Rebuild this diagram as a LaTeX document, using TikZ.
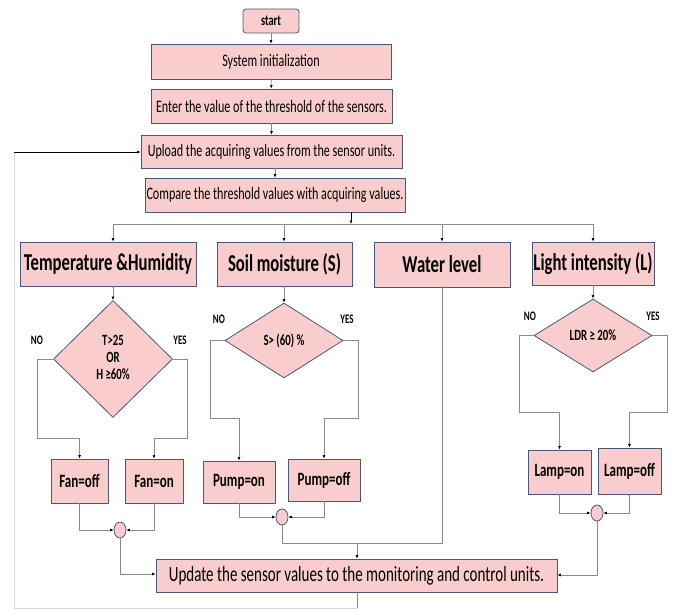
\documentclass[tikz,border=0pt]{standalone}
\usepackage{fontspec}
\usepackage{graphicx}
\setmainfont{Carlito}
\usetikzlibrary{shapes.geometric,arrows.meta}
\definecolor{boxfill}{HTML}{F9CDCD}
\definecolor{boxdraw}{HTML}{4D5677}
\definecolor{linegray}{HTML}{8A8A8A}
\definecolor{loopgray}{HTML}{D8D8D8}
\newcommand{\tallt}[1]{\scalebox{1}[1.45]{#1}}
\tikzset{
  box/.style={draw=boxdraw,fill=boxfill,line width=0.8pt,inner sep=0pt,align=center},
  startbox/.style={box,rounded corners=3pt,font=\bfseries\fontsize{10.4}{12}\selectfont},
  mainbox/.style={box,font=\fontsize{12.1}{14}\selectfont},
  headbox/.style={box,font=\bfseries\fontsize{16.7}{19}\selectfont},
  actbox/.style={box,font=\bfseries\fontsize{13}{15}\selectfont},
  decbox/.style={box,diamond,font=\bfseries\fontsize{10.8}{11.7}\selectfont},
  joinbox/.style={box,ellipse,minimum width=12pt,minimum height=16pt},
  yn/.style={font=\bfseries\fontsize{9}{10}\selectfont},
  conn/.style={draw=linegray,line width=0.7pt},
  arr/.style={conn,-{Latex[length=3.5pt,width=3pt,color=black]}},
  darr/.style={draw=black,line width=0.7pt,-{Latex[length=3.5pt,width=3pt]}},
}
\begin{document}
\begin{tikzpicture}[x=1pt,y=-1pt]
\useasboundingbox (0,0) rectangle (673,610);
\fill[white] (0,0) rectangle (673,610);

\node[startbox,minimum width=56pt,minimum height=24pt] (start) at (271,21) {\tallt{start}};
\node[mainbox,minimum width=240pt,minimum height=35pt] (sys) at (271,61.5) {\tallt{System initialization}};
\node[mainbox,minimum width=241pt,minimum height=34pt] (enter) at (271.5,106) {\tallt{Enter the value of the threshold of the sensors.}};
\node[mainbox,minimum width=261pt,minimum height=33pt] (upload) at (271.5,151.5) {\tallt{Upload the acquiring values from the sensor units.}};
\node[mainbox,minimum width=260pt,minimum height=34pt] (compare) at (275,195) {\tallt{Compare the threshold values with acquiring values.}};

\node[headbox,minimum width=176pt,minimum height=44pt] (th) at (108,264) {\tallt{Temperature \&Humidity}};
\node[headbox,minimum width=135pt,minimum height=44pt] (soil) at (284.5,264) {\tallt{Soil moisture (S)}};
\node[headbox,minimum width=136pt,minimum height=45pt] (water) at (442,264.5) {\tallt{Water level}};
\node[headbox,minimum width=122pt,minimum height=43pt] (light) at (593,263.5) {\tallt{Light intensity (L)}};

\node[decbox,minimum width=119pt,minimum height=117pt] (d1) at (113,359) {\tallt{\begin{tabular}{@{}c@{}}T>25\\OR\\H ≥60\%\end{tabular}}};
\node[decbox,minimum width=118pt,minimum height=75pt] (d2) at (284,340.5) {\tallt{S> (60) \%}};
\node[decbox,minimum width=118pt,minimum height=73pt] (d3) at (593,335.5) {\tallt{LDR ≥ 20\%}};

\node[yn] (no1) at (37,340) {\tallt{NO}};
\node[yn] (yes1) at (180,340) {\tallt{YES}};
\node[yn] (no2) at (219,319) {\tallt{NO}};
\node[yn] (yes2) at (347,319) {\tallt{YES}};
\node[yn] (no3) at (530,316) {\tallt{NO}};
\node[yn] (yes3) at (653,316) {\tallt{YES}};

\node[actbox,minimum width=57pt,minimum height=44pt] (fanoff) at (79.5,481) {\tallt{Fan=off}};
\node[actbox,minimum width=58pt,minimum height=44pt] (fanon) at (154,481) {\tallt{Fan=on}};
\node[actbox,minimum width=72pt,minimum height=42pt] (pumpon) at (239,482) {\tallt{Pump=on}};
\node[actbox,minimum width=72pt,minimum height=42pt] (pumpoff) at (324,480) {\tallt{Pump=off}};
\node[actbox,minimum width=63pt,minimum height=44pt] (lampon) at (559.5,472) {\tallt{Lamp=on}};
\node[actbox,minimum width=63pt,minimum height=46pt] (lampoff) at (629.5,471) {\tallt{Lamp=off}};

\node[joinbox] (c1) at (120,530) {};
\node[joinbox] (c2) at (282,517) {};
\node[joinbox] (c3) at (597,513) {};

\node[mainbox,font=\fontsize{15}{17}\selectfont,minimum width=401pt,minimum height=33pt] (update) at (356.5,575.5) {\tallt{Update the sensor values to the monitoring and control units.}};

% top chain
\draw[arr] (start) -- (sys);
\draw[arr] (sys) -- (enter);
\draw[arr] (enter) -- (upload);
\draw[arr] (upload.south -| compare.north) -- (compare.north);

% branch
\coordinate (bl) at (113,224);
\coordinate (br) at (593,224);
\coordinate (bm) at (351,224);
\draw[conn] (bl) -- (br);
\draw[darr] (compare.south -| bm) -- (bm);
\draw[arr] (bl) -- (bl |- th.north);
\draw[arr] (bl -| d2.north) -- (d2.north |- soil.north);
\draw[arr] (bl -| water.north) -- (water.north);
\draw[arr] (br) -- (br |- light.north);

% header -> decisions
\draw[arr] (d1.north |- th.south) -- (d1.north);
\draw[arr] (d2.north |- soil.south) -- (d2.north);
\draw[arr] (light.south -| d3.north) -- (d3.north);

% decision branches
\coordinate (l1) at (37,438);  \coordinate (r1) at (187,438);
\draw[arr] (d1.west) -| (l1) -| (fanoff.north);
\draw[arr] (d1.east) -| (r1) -| (fanon.north);
\coordinate (l2) at (210,418); \coordinate (r2) at (358,418);
\draw[arr] (d2.west) -| (l2) -| (pumpon.north);
\draw[arr] (d2.east) -| (r2) -| (pumpoff.north);
\coordinate (l3) at (519,412); \coordinate (r3) at (667,412);
\draw[arr] (d3.west) -| (l3) -| (lampon.north);
\draw[arr] (d3.east) -| (r3) -| (lampoff.north);

% joins
\draw[arr] (fanoff.south) |- (c1.west);
\draw[arr] (fanon.south) |- (c1.east);
\draw[arr] (pumpon.south) |- (c2.west);
\draw[arr] (pumpoff.south) |- (c2.east);
\draw[arr] (lampon.south) |- (c3.west);
\draw[arr] (lampoff.south) |- (c3.east);

% to update
\coordinate (m1) at (120,574);
\draw[arr] (c1.south) -- (m1) -- (m1 -| update.west);
\coordinate (m2) at (282,543);
\coordinate (m3) at (357,543);
\draw[conn] (c2.south) -- (m2) -- (m2 -| water.south) -- (water.south);
\draw[arr] (m3) -- (m3 |- update.north);
\coordinate (m4) at (597,575);
\draw[arr] (c3.south) -- (m4) -- (m4 -| update.east);

% loop back
\coordinate (lp1) at (357,608);
\coordinate (lp2) at (14,608);
\coordinate (lp3) at (14,152);
\draw[conn] (update.south -| lp1) -- (lp1);
\draw[draw=loopgray,line width=1pt] (lp1) -- (lp2) -- (lp3);
\draw[darr] (lp3) -- (lp3 -| upload.west);
\end{tikzpicture}
\end{document}
